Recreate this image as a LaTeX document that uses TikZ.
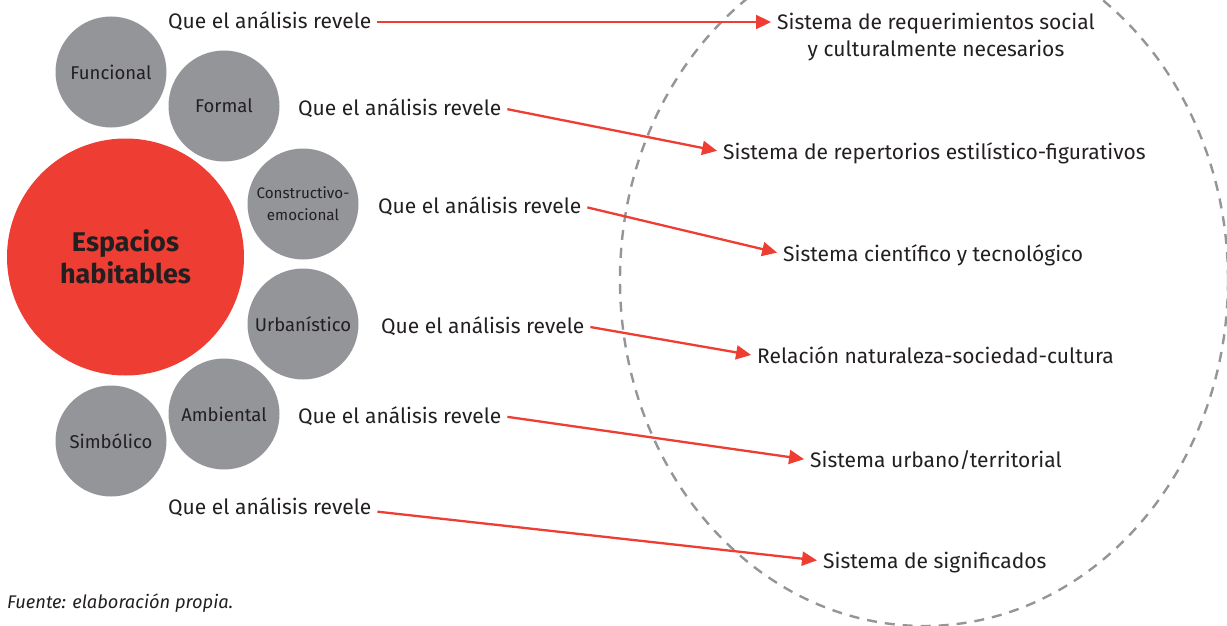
\documentclass[tikz,border=0pt]{standalone}
\usepackage{fontspec}
\setmainfont{Fira Sans}
\usetikzlibrary{arrows.meta}
\definecolor{cred}{HTML}{EE3D33}
\definecolor{cgray}{HTML}{939598}
\definecolor{ctext}{HTML}{231F20}
\begin{document}
\begin{tikzpicture}[x=1pt,y=-1pt,
  bub/.style={circle, fill=cgray, inner sep=0pt, minimum size=111pt, text=ctext,
    font=\fontsize{18.5}{21}\selectfont, align=center},
  lab/.style={anchor=west, inner sep=0pt, text=ctext, text height=14pt, text depth=0pt,
    font=\fontsize{21}{27}\selectfont},
  tgt/.style={lab},
  arr/.style={draw=cred, line width=2.3pt, -{Triangle[length=15pt,width=14pt]},
    shorten <=6pt, shorten >=6pt}]
\useasboundingbox (0,0) rectangle (1227,626);
\begin{scope}
\clip (0,0) rectangle (1227,626);
\draw[cgray, line width=2.4pt, dash pattern=on 10pt off 8pt] (924,280) ellipse [x radius=304pt, y radius=346pt];
\end{scope}
% bubbles
\node[bub] (fun) at (111,72) {Funcional};
\node[bub] (for) at (224,106) {Formal};
\node[bub, font=\fontsize{15.2}{22}\selectfont] (con) at (303,204) {Constructivo-\\emocional};
\node[bub] (urb) at (303,324) {Urbanístico};
\node[bub] (amb) at (224,414) {Ambiental};
\node[bub] (sim) at (111,441) {Simbólico};
\node[circle, fill=cred, inner sep=0pt, minimum size=237pt, text=ctext, align=center,
  font=\bfseries\fontsize{27}{32}\selectfont] (esp) at (125.5,257) {Espacios\\habitables};
% labels
\node[lab] (q1) at (168,22) {Que el análisis revele};
\node[lab] (q2) at (298,108) {Que el análisis revele};
\node[lab] (q3) at (378,206) {Que el análisis revele};
\node[lab] (q4) at (381,326) {Que el análisis revele};
\node[lab] (q5) at (298,416) {Que el análisis revele};
\node[lab] (q6) at (168,507) {Que el análisis revele};
% targets
\node[anchor=north west, inner sep=0pt, text=ctext, align=center,
  font=\fontsize{21}{27}\selectfont] (t1) at (777,12.6) {Sistema de requerimientos social\\y culturalmente necesarios};
\node[tgt] (t2) at (723,152) {Sistema de repertorios estilístico-figurativos};
\node[tgt] (t3) at (783,254) {Sistema científico y tecnológico};
\node[tgt] (t4) at (757,356) {Relación naturaleza-sociedad-cultura};
\node[tgt] (t5) at (810,460) {Sistema urbano/territorial};
\node[tgt] (t6) at (823,561) {Sistema de significados};
% arrows
\draw[arr] (q1.east) -- (q1.east -| t1.west);
\draw[arr] (q2.east) -- (t2.west);
\draw[arr] (q3.east) -- (t3.west);
\draw[arr] (q4.east) -- (t4.west);
\draw[arr] (q5.east) -- (t5.west);
\draw[arr] ([yshift=-4pt]q6.east) -- (t6.west);
% source
\node[anchor=west, inner sep=0pt, text=ctext, font=\itshape\fontsize{18.3}{20}\selectfont] (src) at (7,603) {Fuente: elaboración propia.};
\end{tikzpicture}
\end{document}
